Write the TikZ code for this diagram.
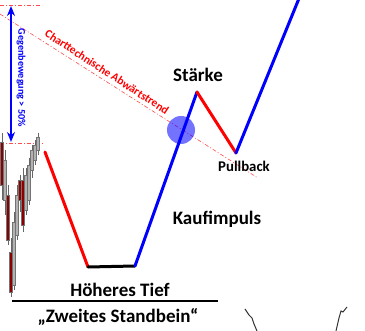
\documentclass[tikz,border=0pt]{standalone}
\usepackage{fontspec}
\setmainfont{Carlito}
\usepackage{tikz}
\usetikzlibrary{arrows.meta}

\begin{document}
\begin{tikzpicture}[x=1pt, y=-1pt, >={Stealth[length=10pt, width=8pt]},
  leg/.style={line width=3pt, line cap=round, line join=round},
  helpline/.style={red!70, line width=0.6pt, dash pattern=on 4pt off 2pt on 1pt off 2pt},
  lbl/.style={font=\bfseries\fontsize{19}{19}\selectfont, inner sep=0pt},
  candle/.style={draw=black!55, fill=black!30, line width=0.6pt},
  redcandle/.style={draw=black!55, fill=red!55!black, line width=0.6pt}]
\useasboundingbox (0,0) rectangle (365,331);
\coordinate (topl) at (0,5); \coordinate (topr) at (42,5);
\coordinate (midl) at (0,143); \coordinate (midr) at (44,143);
\coordinate (trendA) at (0,14); \coordinate (trendB) at (258,178);
\draw[helpline] (topl) -- (topr);
\draw[helpline] (midl) -- (midr);
\draw[helpline] (trendA) -- (trendB);
\node[red, font=\bfseries\fontsize{11.5}{11.5}\selectfont, rotate=-33, inner sep=0pt] (trendtxt) at (107,72) {Charttechnische Abwärtstrend};
\draw[<->, blue, line width=2pt] (11,6) -- (11,142);
\node[blue, font=\bfseries\fontsize{10.2}{10.2}\selectfont, rotate=-90, inner sep=0pt] (gegen) at (21,78) {Gegenbewegung > 50\%};
% candles: x, wick top, wick bottom, body top, body bottom
\foreach \x/\wt/\wb/\bt/\bb/\st in {2/133/200/142/185/redcandle, 5/150/215/160/200/candle, 8/185/245/195/240/redcandle, 11/238/297/252/292/redcandle, 14/212/290/222/285/candle, 17/185/240/195/235/candle, 20/175/212/180/200/redcandle, 23/168/232/180/225/redcandle, 26/168/215/175/210/candle, 29/158/205/165/200/candle, 32/145/178/150/170/candle, 35/140/165/145/160/candle, 38/133/155/137/150/candle}
  {\draw[black!60, line width=0.6pt] (\x,\wt) -- (\x,\wb); \draw[\st] (\x-1.3,\bt) rectangle (\x+1.3,\bb);}
\coordinate (p0) at (45,152); \coordinate (p1) at (88,267); \coordinate (p2) at (135,266);
\coordinate (p3) at (197,92); \coordinate (p4) at (236,153); \coordinate (p5) at (300,-4);
\draw[leg, red] (p0) -- (p1);
\draw[leg, black] (p1) -- (p2);
\draw[leg, blue] (p2) -- (p3);
\draw[leg, red] (p3) -- (p4);
\draw[leg, blue] (p4) -- (p5);
\fill[blue, fill opacity=0.55] (181,130) circle (14);
\node[lbl] (staerke) at (198,75) {Stärke};
\node[lbl, font=\bfseries\fontsize{14.8}{14.8}\selectfont] (pullback) at (244,166) {Pullback};
\node[lbl] (kauf) at (217,219) {Kaufimpuls};
\node[lbl] (hoeher) at (120,290) {Höheres Tief};
\draw[line width=2.5pt] (12,301) -- (218,301);
\node[lbl] (standbein) at (118,317) {„Zweites Standbein“};
\draw[black!80, line width=1pt] (245,309) -- (249,315) -- (252,318) -- (254,324) -- (257,331);
\draw[black!80, line width=1pt] (347,307) -- (343,312) -- (341,311) -- (339,318) -- (336,331);
\end{tikzpicture}
\end{document}
